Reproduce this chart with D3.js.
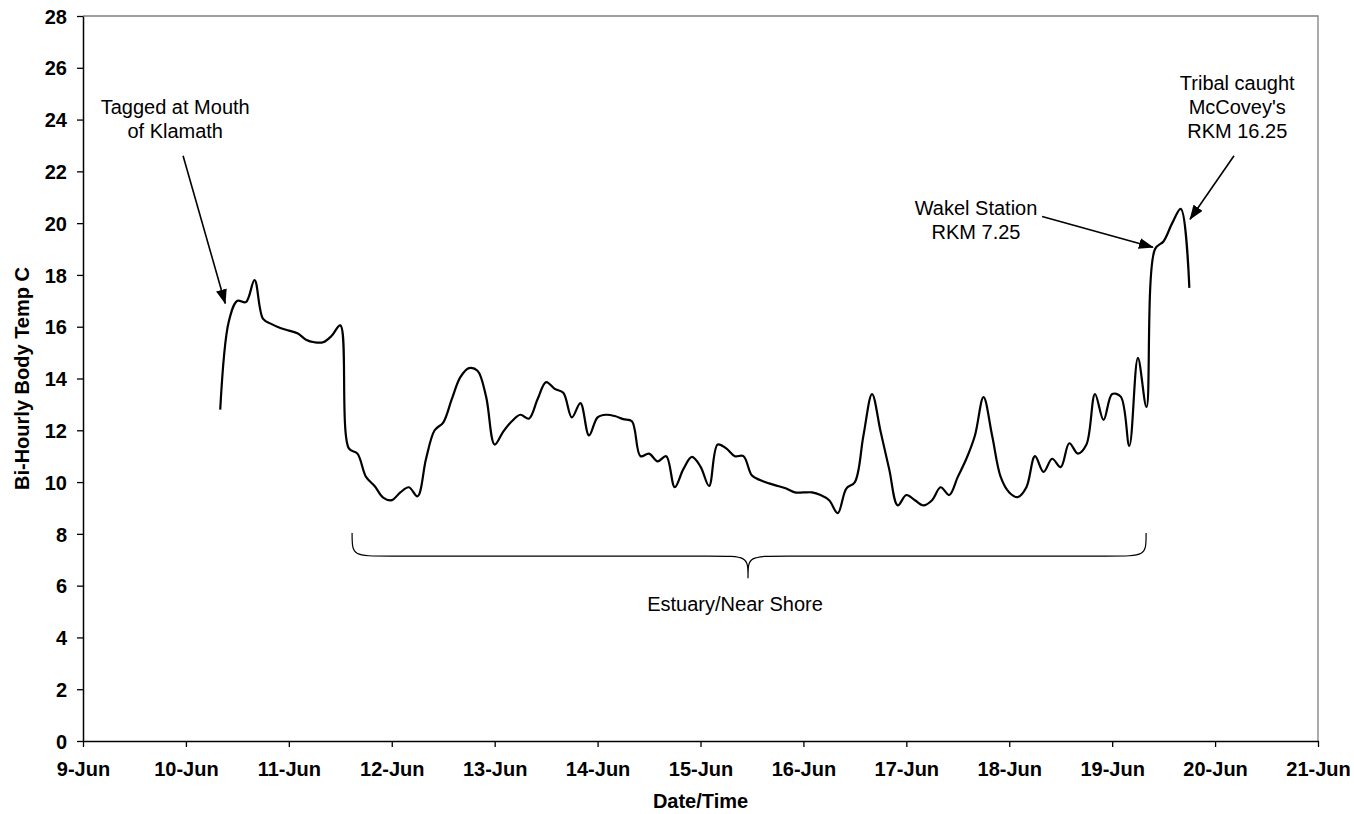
<!DOCTYPE html>
<html>
<head>
<meta charset="utf-8">
<script src="https://cdn.jsdelivr.net/npm/d3@7"></script>
<style>
  body { margin: 0; background: #fff; }
  svg text { font-family: "Liberation Sans", Arial, sans-serif; fill: #000; }
</style>
</head>
<body>
<svg id="chart" width="1354" height="814"></svg>
<script>
// Bi-hourly body temperature readings (°C), first reading 10-Jun 08:00
const firstReading = "2008-06-10T08:00:00Z";
const readingStepHours = 2;
const bodyTemp = [
  12.8, 16.2, 17.0, 16.95, 17.8, 16.3, 16.1, 15.95, 15.85, 15.75,
  15.5, 15.4, 15.4, 15.65, 16.05, 11.3, 11.1, 10.2, 9.85, 9.4,
  9.3, 9.6, 9.8, 9.45, 10.9, 12.0, 12.3, 13.2, 14.05, 14.4,
  14.3, 13.3, 11.45, 11.95, 12.35, 12.6, 12.45, 13.2, 13.86, 13.6,
  13.45, 12.5, 13.05, 11.8, 12.5, 12.6, 12.55, 12.43, 12.35, 11.0,
  11.1, 10.8, 11.0, 9.8, 10.5, 10.97, 10.6, 9.85, 11.45, 11.3,
  11.0, 11.0, 10.25, 10.07, 9.95, 9.85, 9.75, 9.6, 9.6, 9.6,
  9.5, 9.3, 8.8, 9.75, 10.0, 11.8, 13.4, 11.95, 10.5, 9.1,
  9.5, 9.3, 9.1, 9.3, 9.8, 9.5, 10.2, 10.9, 11.8, 13.28,
  11.8, 10.2, 9.6, 9.42, 9.8, 11.0, 10.39, 10.9, 10.58, 11.5,
  11.1, 11.45, 13.4, 12.4, 13.4, 13.3, 11.4, 14.8, 12.9, 19.0,
  19.3, 20.0, 20.55, 17.5
];

// Axis ticks
const dayTicks = [
  "2008-06-09", "2008-06-10", "2008-06-11", "2008-06-12", "2008-06-13",
  "2008-06-14", "2008-06-15", "2008-06-16", "2008-06-17", "2008-06-18",
  "2008-06-19", "2008-06-20", "2008-06-21"
];
const tempTicks = [0, 2, 4, 6, 8, 10, 12, 14, 16, 18, 20, 22, 24, 26, 28];

// Callouts: label lines, label anchor, arrow tail and head (time, temp)
const callouts = [
  { lines: ["Tagged at Mouth", "of Klamath"], at: ["2008-06-09T21:30:00Z", 24.2],
    tail: ["2008-06-09T23:20:00Z", 22.6], head: ["2008-06-10T09:10:00Z", 16.9] },
  { lines: ["Wakel Station", "RKM 7.25"], at: ["2008-06-17T16:15:00Z", 20.3],
    tail: ["2008-06-18T07:40:00Z", 20.26], head: ["2008-06-19T09:30:00Z", 19.07] },
  { lines: ["Tribal caught", "McCovey's", "RKM 16.25"], at: ["2008-06-20T05:10:00Z", 25.14],
    tail: ["2008-06-20T04:25:00Z", 22.6], head: ["2008-06-19T18:10:00Z", 20.15] }
];

// Estuary / near-shore period brace
const braceStart = "2008-06-11T14:45:00Z";
const braceEnd = "2008-06-19T07:55:00Z";
const braceMid = "2008-06-15T11:05:00Z";
const braceTips = 8.03, braceBar = 7.14, bracePoint = 6.29;
const braceLabel = "Estuary/Near Shore";

const W = 1354, H = 814;
const margin = { top: 16, right: 36, bottom: 73, left: 83 };
const iw = W - margin.left - margin.right;
const ih = H - margin.top - margin.bottom;

const svg = d3.select("#chart");
const g = svg.append("g").attr("transform", `translate(${margin.left},${margin.top})`);

const parseT = s => new Date(s);
const t0 = parseT(firstReading);
const readings = bodyTemp.map((v, i) => ({
  t: new Date(t0.getTime() + i * readingStepHours * 3600e3), v
}));

const x = d3.scaleUtc()
  .domain([parseT(dayTicks[0] + "T00:00:00Z"), parseT(dayTicks[dayTicks.length - 1] + "T00:00:00Z")])
  .range([0, iw]);
const y = d3.scaleLinear().domain([0, 28]).range([ih, 0]);

// Plot frame: grey top and right edges
g.append("path")
  .attr("d", `M0,0H${iw}V${ih}`)
  .attr("fill", "none").attr("stroke", "#808080").attr("stroke-width", 1.3);

// Axes
const fmt = d3.utcFormat("%-d-%b");
const xAxis = g.append("g").attr("transform", `translate(0,${ih})`)
  .call(d3.axisBottom(x)
    .tickValues(dayTicks.map(d => parseT(d + "T00:00:00Z")))
    .tickFormat(fmt).tickSize(6).tickSizeOuter(0).tickPadding(15));
const yAxis = g.append("g")
  .call(d3.axisLeft(y).tickValues(tempTicks).tickSize(6).tickSizeOuter(0).tickPadding(10));

[xAxis, yAxis].forEach(a => {
  a.select(".domain").attr("stroke", "#000").attr("stroke-width", 1.5);
  a.selectAll(".tick line").attr("stroke", "#000").attr("stroke-width", 1.3);
  a.selectAll(".tick text")
    .attr("font-size", 20).attr("font-weight", "bold")
    .attr("font-family", "'Liberation Sans', Arial, sans-serif").attr("fill", "#000");
});
yAxis.selectAll(".tick text").attr("dy", "0.36em");

// Axis titles
svg.append("text")
  .attr("x", margin.left + iw / 2).attr("y", H - 6)
  .attr("text-anchor", "middle").attr("font-size", 20).attr("font-weight", "bold")
  .text("Date/Time");
svg.append("text")
  .attr("transform", `translate(29,${margin.top + ih / 2}) rotate(-90)`)
  .attr("text-anchor", "middle").attr("font-size", 20).attr("font-weight", "bold")
  .text("Bi-Hourly Body Temp C");

// Temperature line
const line = d3.line()
  .x(d => x(d.t)).y(d => y(d.v))
  .curve(d3.curveCatmullRom.alpha(0.5));
g.append("path").datum(readings)
  .attr("d", line)
  .attr("fill", "none").attr("stroke", "#000").attr("stroke-width", 2.2)
  .attr("stroke-linejoin", "round");

// Arrowhead marker
svg.append("defs").append("marker")
  .attr("id", "arrowhead")
  .attr("viewBox", "0 0 15 11").attr("refX", 14).attr("refY", 5.5)
  .attr("markerWidth", 15).attr("markerHeight", 11)
  .attr("markerUnits", "userSpaceOnUse")
  .attr("orient", "auto")
  .append("path").attr("d", "M0,0L15,5.5L0,11Z").attr("fill", "#000");

// Callouts
const lineGap = 24;
callouts.forEach(c => {
  const cx = x(parseT(c.at[0])), cy = y(c.at[1]);
  const txt = g.append("text").attr("text-anchor", "middle").attr("font-size", 20);
  c.lines.forEach((s, i) => {
    txt.append("tspan").attr("x", cx).attr("y", cy + i * lineGap).text(s);
  });
  g.append("line")
    .attr("x1", x(parseT(c.tail[0]))).attr("y1", y(c.tail[1]))
    .attr("x2", x(parseT(c.head[0]))).attr("y2", y(c.head[1]))
    .attr("stroke", "#000").attr("stroke-width", 1.6)
    .attr("marker-end", "url(#arrowhead)");
});

// Curly brace spanning the estuary period
{
  const xl = x(parseT(braceStart)), xr = x(parseT(braceEnd)), xm = x(parseT(braceMid));
  const yt = y(braceTips), yb = y(braceBar), yp = y(bracePoint);
  const r = 40;
  const d = [
    `M${xl},${yt}`,
    `C${xl},${yb} ${xl},${yb} ${xl + r},${yb}`,
    `L${xm - r},${yb}`,
    `C${xm},${yb} ${xm},${yb} ${xm},${yp}`,
    `C${xm},${yb} ${xm},${yb} ${xm + r},${yb}`,
    `L${xr - r},${yb}`,
    `C${xr},${yb} ${xr},${yb} ${xr},${yt}`
  ].join(" ");
  g.append("path").attr("d", d)
    .attr("fill", "none").attr("stroke", "#000").attr("stroke-width", 1.2);
  g.append("text")
    .attr("x", xm - 13).attr("y", yp + 33)
    .attr("text-anchor", "middle").attr("font-size", 20)
    .text(braceLabel);
}
</script>
</body>
</html>
